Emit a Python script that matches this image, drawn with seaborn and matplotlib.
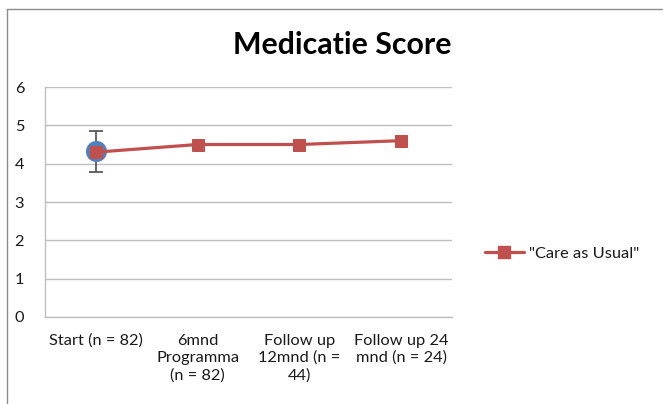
import matplotlib
matplotlib.use("Agg")
import matplotlib.pyplot as plt
import seaborn as sns
import pandas as pd
import numpy as np
from matplotlib.lines import Line2D

categories = ["Start (n = 82)", "6mnd\nProgramma\n(n = 82)", "Follow up\n12mnd (n =\n44)", "Follow up 24\nmnd (n = 24)"]
care_as_usual = [4.3, 4.5, 4.5, 4.6]
programma_start = [4.32]
programma_err = [0.53]
yticks = [0, 1, 2, 3, 4, 5, 6]

sns.set_theme(style="white")
plt.rcParams['font.family'] = ['Lato', 'DejaVu Sans']

fig = plt.figure(figsize=(6.63, 4.04), dpi=100)
ax = fig.add_axes([45/663, 1-317/404, (452-45)/663, (317-87)/404])

df = pd.DataFrame({"pos": np.arange(len(categories)), "score": care_as_usual})
dfp = pd.DataFrame({"pos": [0], "score": programma_start})

ax.errorbar(dfp["pos"], dfp["score"], yerr=programma_err, fmt='none',
            ecolor='#595959', elinewidth=1.3, capsize=5, capthick=1.3, zorder=2)
sns.scatterplot(data=dfp, x="pos", y="score", ax=ax, marker='o', s=230,
                color='#4F81BD', edgecolor='#4F81BD', linewidth=0, zorder=3, legend=False)
sns.lineplot(data=df, x="pos", y="score", ax=ax, color='#C0504D', linewidth=2.3,
             marker='s', markersize=9, markeredgecolor='#C0504D', zorder=4)

ax.set_xlim(-0.5, len(categories) - 0.5)
ax.set_ylim(0, 6)
ax.set_yticks(yticks)
ax.set_yticklabels([str(v) for v in yticks])
ax.set_xticks(np.arange(len(categories)))
ax.set_xticklabels(categories, linespacing=1.28)
ax.set_xticks(np.arange(len(categories) + 1) - 0.5, minor=True)
ax.tick_params(axis='x', which='major', length=0, pad=12, labelsize=11.8, colors='#1a1a1a')
ax.tick_params(axis='x', which='minor', length=5, color='#a6a6a6', width=1, direction='out')
ax.tick_params(axis='y', which='major', length=5, width=1, pad=10,
               labelsize=11.8, labelcolor='#1a1a1a', color='#a6a6a6', direction='out')
ax.set_xlabel("")
ax.set_ylabel("")
ax.grid(axis='y', color='#bfbfbf', linewidth=1)
ax.set_axisbelow(True)
for s in ['top', 'right']:
    ax.spines[s].set_visible(False)
for s in ['left', 'bottom']:
    ax.spines[s].set_color('#bfbfbf')
    ax.spines[s].set_linewidth(1)

fig.text(342/663, 1-45/404, "Medicatie Score", ha='center', va='center',
         fontsize=21.8, fontweight='bold', color='black')

handle = Line2D([0], [0], color='#C0504D', linewidth=2.3, marker='s', markersize=8)
fig.legend([handle], ['"Care as Usual"'], loc='center left',
           bbox_to_anchor=(470/663, 1-254/404), frameon=False, fontsize=11.8,
           handlelength=2.4, handletextpad=0.3, labelcolor='#1a1a1a')

# chart border lines (left and top)
fig.add_artist(Line2D([7/663, 7/663], [0, 1-9/404], transform=fig.transFigure, color='#8c8c8c', linewidth=1))
fig.add_artist(Line2D([7/663, 662/663], [1-9/404, 1-9/404], transform=fig.transFigure, color='#8c8c8c', linewidth=1))

fig.savefig("out.png", dpi=100)
